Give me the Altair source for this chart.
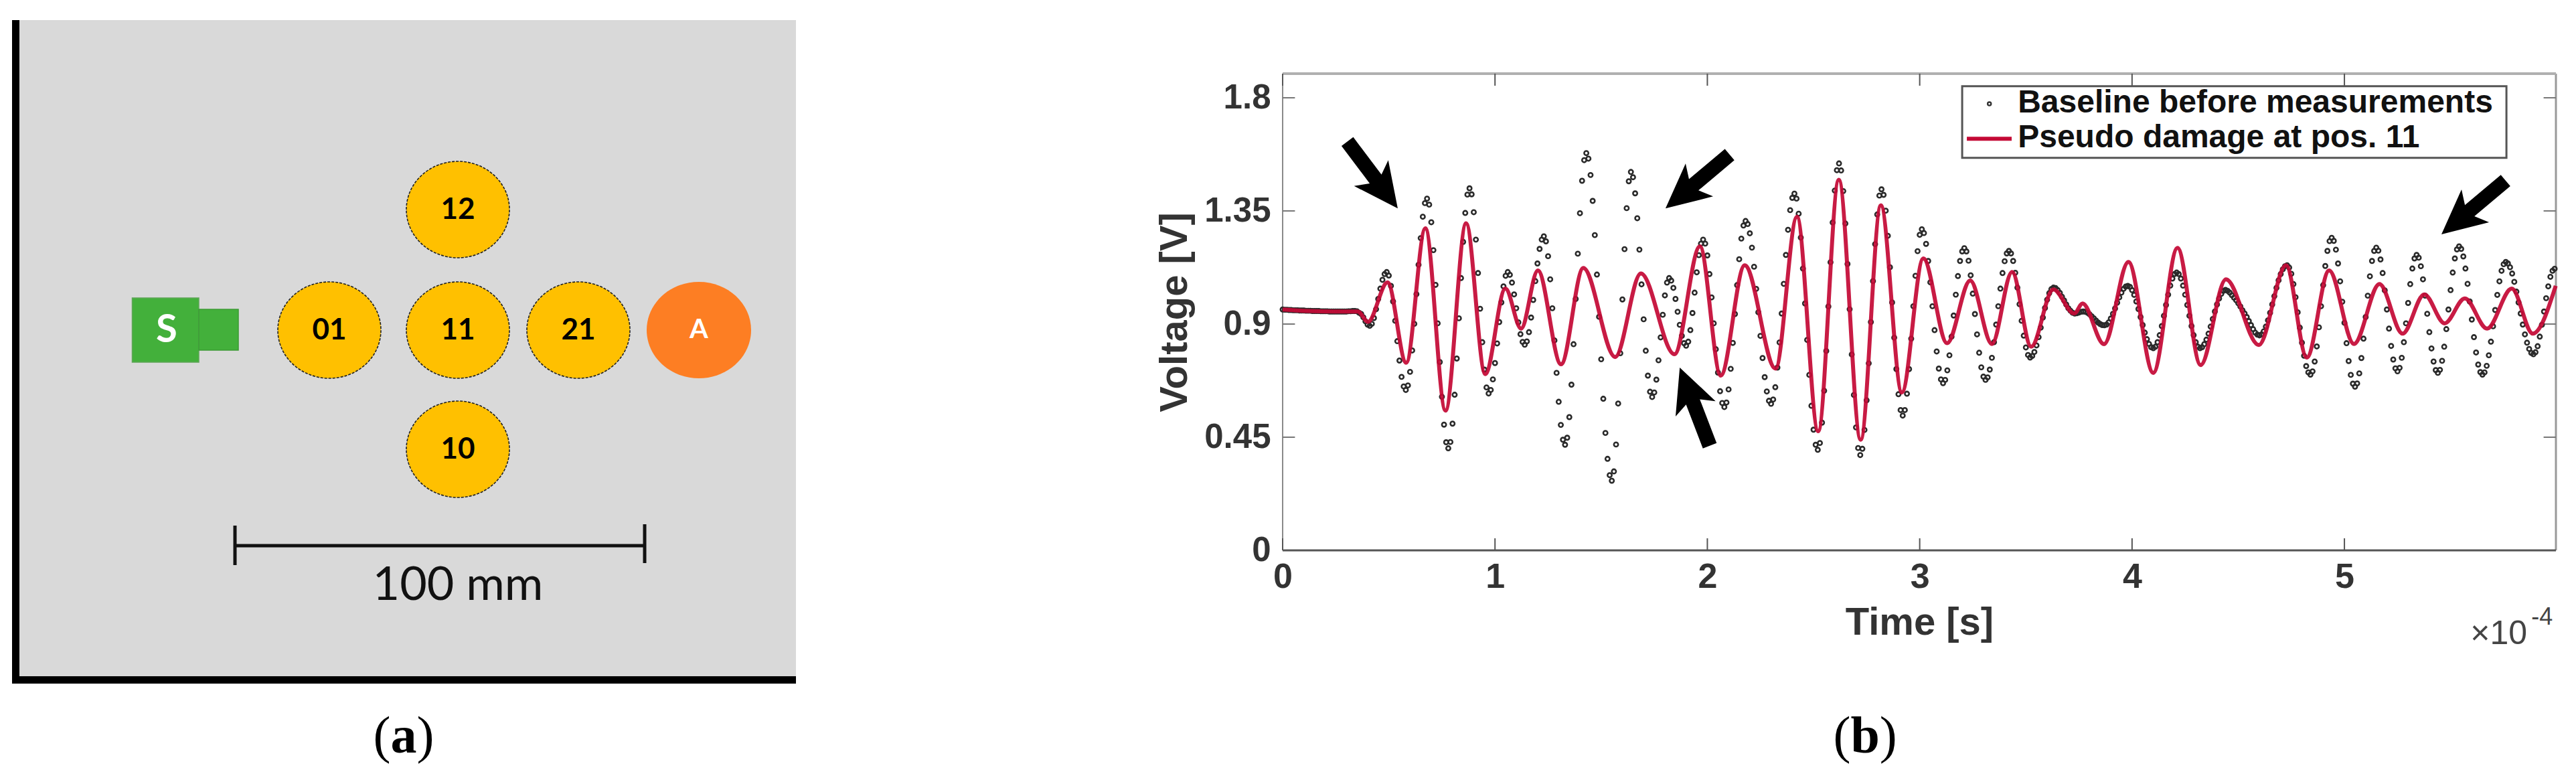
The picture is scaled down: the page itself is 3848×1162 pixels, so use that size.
import altair as alt
import pandas as pd

# ---------- panel (a): specimen layout, in diagram units ----------
plate_box = {"x": [29], "x2": [1189], "y": [30], "y2": [1010]}
plate_left = {"x": [18], "x2": [29], "y": [30], "y2": [1021]}
plate_bottom = {"x": [18], "x2": [1189], "y": [1010], "y2": [1021]}
disk_names = ["12", "01", "11", "21", "10"]
disk_x = [684, 492, 684, 864, 684]
disk_y = [313, 493, 493, 493, 671]
actuator_x = [1044]
actuator_y = [493]
sensor_body = {"x": [197.5], "x2": [297], "y": [445], "y2": [541]}
sensor_tip = {"x": [297], "x2": [356], "y": [462], "y2": [523]}
bar_x = [351, 963]
bar_y = [815, 815]
cap_left = [785, 844]
cap_right = [783, 841]

# ---------- panel (b): voltage traces ----------
damage_t = [0, 0.12, 0.24, 0.354, 0.402, 0.494, 0.582, 0.672, 0.767, 0.864, 0.954, 1.049, 1.123, 1.202,
            1.311, 1.416, 1.566, 1.687, 1.845, 1.965, 2.063, 2.176, 2.321, 2.422, 2.522, 2.619, 2.722,
            2.817, 2.916, 3.017, 3.129, 3.238, 3.340, 3.435, 3.525, 3.629, 3.728, 3.767, 3.868, 3.983,
            4.100, 4.214, 4.323, 4.442, 4.597, 4.725, 4.823, 4.928, 5.045, 5.165, 5.274, 5.376, 5.472,
            5.567, 5.672, 5.788, 5.887, 5.995]
damage_v = [0.958, 0.952, 0.950, 0.950, 0.909, 1.066, 0.746, 1.281, 0.556, 1.301, 0.701, 1.041, 0.882, 1.113,
            0.740, 1.123, 0.769, 1.101, 0.780, 1.209, 0.695, 1.134, 0.723, 1.327, 0.474, 1.474, 0.440,
            1.372, 0.628, 1.161, 0.824, 1.073, 0.821, 1.107, 0.810, 1.038, 0.942, 0.982, 0.820, 1.147,
            0.706, 1.203, 0.737, 1.078, 0.817, 1.134, 0.767, 1.113, 0.821, 1.059, 0.862, 1.018, 0.903,
            1.002, 0.882, 1.041, 0.862, 1.052]

baseline_v = [
    .958, .957, .957, .956, .956, .955, .955, .955, .954, .954, .954, .953, .953, .953, .952, .952, .952, .952,
    .951, .951, .951, .951, .950, .950, .950, .950, .950, .950, .950, .950, .950, .951, .951, .952, .952, .951, .945,
    .940, .927, .911, .898, .893,
    .901, .924, .959, 1.000, 1.041, 1.076, 1.099, 1.107,
    1.093, 1.052, .990, .913, .832, .755, .690, .652, .638,
    .656, .710, .795, .901, 1.019, 1.136, 1.242, 1.327, 1.381, 1.399,
    1.375, 1.305, 1.194, 1.056, .903, .749, .611, .500, .430, .406,
    .431, .504, .619, .763, .923, 1.083, 1.227, 1.342, 1.415, 1.440,
    1.416, 1.345, 1.236, 1.103, .961, .828, .719, .648, .624,
    .638, .680, .745, .823, .908, .986, 1.050, 1.092, 1.107,
    1.096, 1.065, 1.018, .963, .907, .860, .829, .818,
    .831, .868, .926, .996, 1.071, 1.141, 1.199, 1.236, 1.249,
    1.229, 1.170, 1.078, .963, .835, .706, .591, .499, .440, .420,
    .448, .530, .659, .820, 1.000, 1.180, 1.341, 1.470, 1.552, 1.580,
    1.558, 1.493, 1.390, 1.254, 1.097, .929, .760, .603, .467, .364, .299, .277,
    .314, .421, .584, .784, .998, 1.198, 1.361, 1.468, 1.505,
    1.484, 1.420, 1.321, 1.196, 1.058, .919, .794, .695, .631, .610,
    .628, .679, .756, .847, .937, 1.014, 1.065, 1.083,
    1.073, 1.044, 1.000, .949, .897, .853, .824, .814,
    .830, .876, .944, 1.025, 1.106, 1.174, 1.220, 1.236,
    1.220, 1.173, 1.099, 1.006, .903, .800, .707, .633, .586, .570,
    .588, .640, .722, .825, .940, 1.055, 1.158, 1.240, 1.292, 1.310,
    1.298, 1.261, 1.204, 1.128, 1.040, .947, .853, .765, .689, .632, .595, .583,
    .600, .649, .727, .827, .942, 1.060, 1.175, 1.275, 1.353, 1.402, 1.419,
    1.399, 1.339, 1.244, 1.121, .982, .837, .698, .575, .480, .420, .400,
    .427, .508, .635, .793, .970, 1.146, 1.304, 1.431, 1.512, 1.539,
    1.511, 1.429, 1.300, 1.139, .959, .779, .618, .489, .407, .379,
    .404, .479, .597, .744, .908, 1.071, 1.218, 1.336, 1.411, 1.436,
    1.414, 1.351, 1.251, 1.126, .986, .846, .721, .621, .558, .536,
    .558, .623, .721, .842, .971, 1.092, 1.190, 1.255, 1.277,
    1.262, 1.219, 1.151, 1.066, .971, .876, .791, .723, .680, .665,
    .678, .716, .776, .850, .934, 1.017, 1.091, 1.151, 1.189, 1.202,
    1.189, 1.152, 1.094, 1.021, .940, .859, .786, .728, .691, .678,
    .688, .719, .766, .828, .898, .971, 1.041, 1.103, 1.150, 1.181, 1.191,
    1.181, 1.151, 1.104, 1.045, .979, .913, .854, .807, .777, .767,
    .773, .789, .815, .848, .886, .926, .964, .997, 1.023, 1.039, 1.045,
    1.043, 1.035, 1.024, 1.009, .994, .978, .963, .953, .945, .942,
    .943, .946, .949, .950,
    .949, .945, .939, .931, .923, .914, .906, .900, .896, .895,
    .898, .907, .922, .941, .962, .985, 1.006, 1.025, 1.040, 1.049, 1.052,
    1.048, 1.035, 1.016, .990, .960, .928, .896, .866, .840, .821, .808, .804,
    .810, .828, .856, .892, .933, .976, 1.017, 1.053, 1.081, 1.099, 1.105,
    1.099, 1.081, 1.053, 1.017, .976, .933, .892, .856, .828, .810, .804,
    .808, .820, .838, .862, .890, .920, .950, .978, 1.002, 1.020, 1.032, 1.036,
    1.032, 1.025, 1.015, 1.005, .995, .983, .970, .955, .942, .928, .912, .896, .880, .866, .858, .855,
    .859, .871, .890, .915, .945, .978, 1.011, 1.044, 1.074, 1.099, 1.118, 1.130, 1.134,
    1.125, 1.100, 1.059, 1.007, .947, .886, .826, .774, .733, .708, .699,
    .712, .751, .811, .887, .971, 1.055, 1.131, 1.191, 1.230, 1.243,
    1.231, 1.196, 1.141, 1.070, .989, .905, .824, .753, .698, .663, .651,
    .664, .704, .765, .842, .928, 1.013, 1.090, 1.151, 1.191, 1.204,
    1.192, 1.157, 1.103, 1.034, .958, .882, .813, .759, .724, .712,
    .726, .766, .828, .903, .984, 1.059, 1.121, 1.161, 1.175,
    1.164, 1.130, 1.078, 1.013, .941, .868, .803, .751, .717, .706,
    .718, .754, .810, .880, .958, 1.035, 1.105, 1.161, 1.197, 1.209,
    1.199, 1.169, 1.121, 1.060, .990, .918, .848, .787, .739, .709, .699,
    .708, .734, .776, .830, .891, .956, 1.016, 1.070, 1.112, 1.138, 1.147,
    1.141, 1.126, 1.101, 1.068, 1.029, .986, .942, .898, .859, .826, .801, .785, .780,
    .788, .812, .850, .897, .950, 1.003, 1.050, 1.088, 1.112, 1.120,
]

arrow_t = [0.542, 1.803, 1.870, 5.457]
arrow_v = [1.360, 1.360, 0.727, 1.257]
arrow_angle = [143, 230, 339, 230]

x_ticks = [0, 1, 2, 3, 4, 5]
y_ticks = [0, 0.45, 0.9, 1.35, 1.8]
X_MAX, Y_MAX = 5.996, 1.896
X_TICK_LEN, Y_TICK_LEN = 0.058, 0.048

# ---------- helpers ----------
ax = alt.Scale(domain=[8, 1208], nice=False, zero=False)
ay = alt.Scale(domain=[1154, 110], nice=False, zero=False)


def A_rect(box, color, stroke=None):
    kw = {"color": color}
    if stroke:
        kw.update(stroke=stroke, strokeWidth=1.5)
    return alt.Chart(pd.DataFrame(box)).mark_rect(**kw).encode(
        x=alt.X("x:Q", scale=ax, axis=None), x2="x2:Q",
        y=alt.Y("y:Q", scale=ay, axis=None), y2="y2:Q")


def A_text(df, **kw):
    return alt.Chart(pd.DataFrame(df)).mark_text(**kw).encode(
        x=alt.X("x:Q", scale=ax, axis=None), y=alt.Y("y:Q", scale=ay, axis=None), text="t:N")


def A_bar(xs, ys, width=5):
    return alt.Chart(pd.DataFrame({"x": xs, "y": ys})).mark_line(color="#111111", strokeWidth=width).encode(
        x=alt.X("x:Q", scale=ax, axis=None), y=alt.Y("y:Q", scale=ay, axis=None))


ELLIPSE = "M-77,0 A77,72 0 1,1 77,0 A77,72 0 1,1 -77,0 Z"
disks = alt.Chart(pd.DataFrame({"x": disk_x, "y": disk_y})).mark_point(
    shape=ELLIPSE, size=4, filled=True, fill="#FFC000", opacity=1,
    stroke="#222222", strokeWidth=1.6, strokeDash=[4, 2]).encode(
    x=alt.X("x:Q", scale=ax, axis=None), y=alt.Y("y:Q", scale=ay, axis=None))
actuator = alt.Chart(pd.DataFrame({"x": actuator_x, "y": actuator_y})).mark_point(
    shape="M-78,0 A78,72 0 1,1 78,0 A78,72 0 1,1 -78,0 Z", size=4, filled=True, fill="#FD7E23", opacity=1,
    strokeWidth=0).encode(
    x=alt.X("x:Q", scale=ax, axis=None), y=alt.Y("y:Q", scale=ay, axis=None))

panel_a = alt.layer(
    A_rect(plate_box, "#D9D9D9"),
    A_rect(plate_left, "#000000"),
    A_rect(plate_bottom, "#000000"),
    A_rect(sensor_body, "#43B03B", stroke="#5FA558"),
    A_rect(sensor_tip, "#43B03B", stroke="#3C9A35"),
    disks,
    actuator,
    A_text({"x": disk_x, "y": [d + 1 for d in disk_y], "t": disk_names},
           font="Lato", fontWeight="bold", fontSize=44, color="#000000", align="center", baseline="middle"),
    A_text({"x": actuator_x, "y": actuator_y, "t": ["A"]},
           font="Lato", fontWeight="bold", fontSize=40, color="#FFFFFF", align="center", baseline="middle"),
    A_text({"x": [249], "y": [494], "t": ["S"]},
           font="Lato", fontWeight="bold", fontSize=58, color="#FFFFFF", align="center", baseline="middle"),
    A_bar(bar_x, bar_y),
    A_bar([bar_x[0], bar_x[0]], cap_left),
    A_bar([bar_x[1], bar_x[1]], cap_right),
    A_text({"x": [684], "y": [896], "t": ["100 mm"]},
           font="Lato", fontSize=70, color="#111111", align="center", baseline="alphabetic"),
    A_text({"x": [570.5, 635.5], "y": [1124, 1124], "t": ["(", ")"]},
           font="Liberation Serif", fontSize=78, color="#000000", align="center", baseline="alphabetic"),
    A_text({"x": [603], "y": [1124], "t": ["a"]},
           font="Liberation Serif", fontWeight="bold", fontSize=78, color="#000000", align="center", baseline="alphabetic"),
).properties(width=1200, height=1044)

bx = alt.Scale(domain=[0, X_MAX], nice=False, zero=False)
by = alt.Scale(domain=[0, Y_MAX], nice=False, zero=False)


def B_rule(rows, color, width, opacity=1):
    return alt.Chart(pd.DataFrame(rows, columns=["x", "x2", "y", "y2"])).mark_rule(
        color=color, strokeWidth=width, opacity=opacity).encode(x=alt.X("x:Q"), x2="x2:Q", y=alt.Y("y:Q"), y2="y2:Q")


def B_text(df, **kw):
    return alt.Chart(pd.DataFrame(df)).mark_text(**kw).encode(x=alt.X("x:Q"), y=alt.Y("y:Q"), text="t:N")


x_tick_rows = [[t, t, 0, Y_TICK_LEN] for t in x_ticks] + [[t, t, Y_MAX - Y_TICK_LEN, Y_MAX] for t in x_ticks]
y_tick_rows = [[0, X_TICK_LEN, v, v] for v in y_ticks[1:]] + [[X_MAX - X_TICK_LEN, X_MAX, v, v] for v in y_ticks[1:]]

axes_layer = alt.Chart(pd.DataFrame({"x": x_ticks, "y": [0] * 6})).mark_point(opacity=0).encode(
    x=alt.X("x:Q", scale=bx, axis=alt.Axis(
        values=x_ticks, title="Time [s]", grid=False, domain=False, ticks=False, format="d", labelFlush=False,
        labelFont="Liberation Sans", labelFontWeight="bold", labelFontSize=52, labelColor="#333333", labelPadding=14,
        titleFont="Liberation Sans", titleFontWeight="bold", titleFontSize=58, titleColor="#333333", titlePadding=14)),
    y=alt.Y("y:Q", scale=by, axis=alt.Axis(
        values=y_ticks, title="Voltage [V]", grid=False, domain=False, ticks=False, format=".3~f", labelFlush=False,
        labelFont="Liberation Sans", labelFontWeight="bold", labelFontSize=51, labelColor="#333333", labelPadding=18,
        titleFont="Liberation Sans", titleFontWeight="bold", titleFontSize=58, titleColor="#333333", titlePadding=14)),
)

top_pad = B_rule([[0, 0, Y_MAX, 2.167]], "#FFFFFF", 1, opacity=0)

dots = alt.Chart(pd.DataFrame({"x": [i * 0.01 for i in range(len(baseline_v))], "y": baseline_v})).mark_point(
    size=40, color="#2A2A2A", strokeWidth=2.6, filled=False, opacity=1).encode(x=alt.X("x:Q"), y=alt.Y("y:Q"))
red = alt.Chart(pd.DataFrame({"x": damage_t, "y": damage_v})).mark_line(
    color="#C40A36", strokeWidth=6, interpolate="monotone", opacity=0.93).encode(x=alt.X("x:Q"), y=alt.Y("y:Q"))
arrows = alt.Chart(pd.DataFrame({"x": arrow_t, "y": arrow_v, "a": arrow_angle})).mark_point(
    shape="M0,0 L32,66 L11,55 L11,125 L-11,125 L-11,55 L-32,66 Z", size=4, filled=True, fill="#000000",
    opacity=1, strokeWidth=0).encode(x=alt.X("x:Q"), y=alt.Y("y:Q"), angle=alt.Angle("a:Q", scale=None))

legend_box = alt.Chart(pd.DataFrame([[3.200, 5.763, 1.846, 1.561]], columns=["x", "x2", "y", "y2"])).mark_rect(
    fill="#FFFFFF", stroke="#555555", strokeWidth=3).encode(x=alt.X("x:Q"), x2="x2:Q", y=alt.Y("y:Q"), y2="y2:Q")
legend_dot = alt.Chart(pd.DataFrame({"x": [3.328], "y": [1.776]})).mark_point(
    size=26, color="#333333", strokeWidth=2.4, filled=False, opacity=1).encode(x=alt.X("x:Q"), y=alt.Y("y:Q"))
legend_line = alt.Chart(pd.DataFrame({"x": [3.222, 3.433], "y": [1.637, 1.637]})).mark_line(
    color="#C40A36", strokeWidth=6).encode(x=alt.X("x:Q"), y=alt.Y("y:Q"))

panel_b = alt.layer(
    axes_layer,
    top_pad,
    B_rule([[0, 0, 0, Y_MAX]], "#8A8A8A", 2),
    B_rule([[X_MAX, X_MAX, 0, Y_MAX]], "#999999", 3),
    B_rule([[0, X_MAX, Y_MAX, Y_MAX]], "#B0B0B0", 4),
    B_rule(x_tick_rows, "#555555", 2),
    B_rule(y_tick_rows, "#777777", 2),
    B_rule([[0, X_MAX, 0, 0]], "#555555", 3),
    dots,
    red,
    arrows,
    legend_box,
    legend_dot,
    legend_line,
    B_text({"x": [3.462, 3.462], "y": [1.741, 1.603],
            "t": ["Baseline before measurements", "Pseudo damage at pos. 11"]},
           font="Liberation Sans", fontWeight="bold", fontSize=48, color="#111111", align="left", baseline="alphabetic"),
    B_text({"x": [5.861], "y": [-0.373], "t": ["×10"]},
           font="Liberation Sans", fontSize=50, color="#444444", align="right", baseline="alphabetic"),
    B_text({"x": [5.880], "y": [-0.296], "t": ["-4"]},
           font="Liberation Sans", fontSize=36, color="#444444", align="left", baseline="alphabetic"),
    B_text({"x": [2.634, 2.852], "y": [-0.804, -0.804], "t": ["(", ")"]},
           font="Liberation Serif", fontSize=78, color="#000000", align="center", baseline="alphabetic"),
    B_text({"x": [2.743], "y": [-0.804], "t": ["b"]},
           font="Liberation Serif", fontWeight="bold", fontSize=78, color="#000000", align="center", baseline="alphabetic"),
).properties(width=1902, height=712)

chart = alt.hconcat(panel_a, panel_b, spacing=518).properties(padding=0).configure_view(stroke=None)
chart.save("out.html", embed_options={"renderer": "svg", "actions": False})
